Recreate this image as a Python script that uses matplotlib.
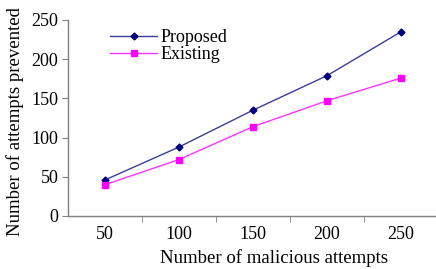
import matplotlib.pyplot as plt
import numpy as np

plt.rcParams['font.family'] = 'Liberation Serif'

attempts = ['50', '100', '150', '200', '250']
proposed = [46, 88, 135, 179, 235]
existing = [40, 72, 114, 147, 176]

fig = plt.figure(figsize=(4.36, 2.69), dpi=100)
ax = fig.add_axes([68 / 436, 1 - 216 / 269, 370 / 436, 196 / 269])

x = np.arange(1, len(attempts) + 1)
ax.plot(x, proposed, color='#3c3c9c', lw=1, marker='D', ms=3.5,
        mfc='#000080', mec='#000080', label='Proposed')
ax.plot(x, existing, color='#ff33ff', lw=1, marker='s', ms=4.5,
        mfc='#ff00ff', mec='#ff00ff', label='Existing')

ax.set_xlim(0.5, len(attempts) + 0.5)
ax.set_ylim(0, 250)
ax.set_yticks(range(0, 251, 50))
ax.set_xticks(x)
ax.set_xticklabels(attempts)
ax.set_xticks(np.arange(1.5, len(attempts), 1), minor=True)
ax.tick_params(axis='x', which='major', length=0, pad=7, labelsize=13)
ax.tick_params(axis='x', which='minor', length=4, direction='out', color='#808080')
ax.tick_params(axis='y', length=4, direction='out', color='#808080', labelsize=13, pad=3)

for s in ['top', 'right']:
    ax.spines[s].set_visible(False)
for s in ['left', 'bottom']:
    ax.spines[s].set_color('#808080')
    ax.spines[s].set_linewidth(1)

ax.set_xlabel('Number of malicious attempts', fontsize=13.5)
ax.xaxis.set_label_coords(0.557, -0.17)
ax.set_ylabel('Number of attempts prevented', fontsize=13.5)
ax.yaxis.set_label_coords(-0.12, 0.48)

ax.legend(loc='upper left', bbox_to_anchor=(0.085, 1.01), frameon=False,
          fontsize=13, handlelength=2.6, handletextpad=0.2, labelspacing=0.0,
          borderaxespad=0.2)

fig.savefig('out.png', dpi=100)
